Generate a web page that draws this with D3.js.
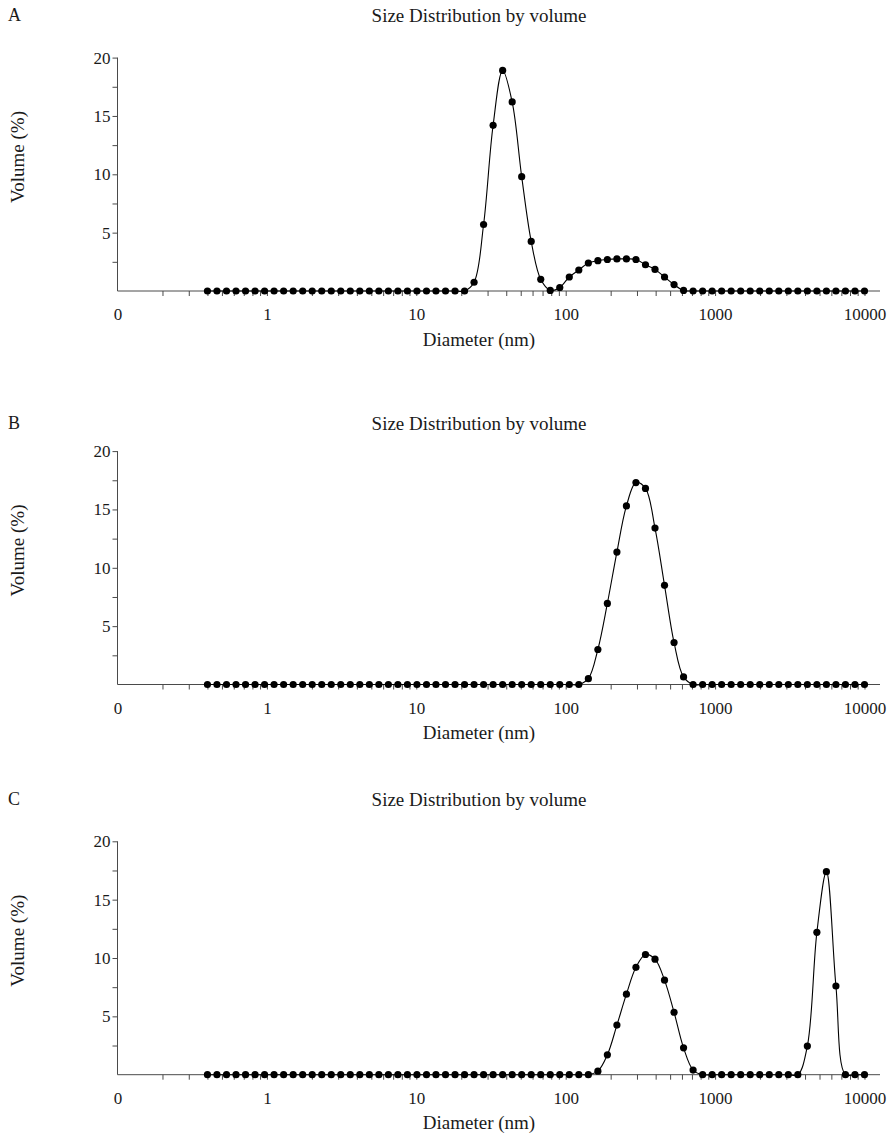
<!DOCTYPE html>
<html>
<head>
<meta charset="utf-8">
<script src="https://cdn.jsdelivr.net/npm/d3@7"></script>
<style>
  html, body { margin: 0; padding: 0; background: #fff; }
  svg { display: block; }
  text { font-family: "Liberation Serif", "DejaVu Serif", serif; fill: #1a1a1a; }
</style>
</head>
<body>
<script>
// Size classes (nm) of the DLS instrument
const sizes = [0.4, 0.4632, 0.5365, 0.6213, 0.7195, 0.8332, 0.9649, 1.117, 1.294, 1.499,
  1.736, 2.01, 2.328, 2.696, 3.122, 3.615, 4.187, 4.849, 5.615, 6.503,
  7.531, 8.721, 10.1, 11.7, 13.54, 15.69, 18.17, 21.04, 24.36, 28.21,
  32.67, 37.84, 43.82, 50.75, 58.77, 68.06, 78.82, 91.28, 105.7, 122.4,
  141.8, 164.2, 190.1, 220.2, 255.0, 295.3, 342.0, 396.1, 458.7, 531.2,
  615.1, 712.4, 825.0, 955.4, 1106, 1281, 1484, 1718, 1990, 2305,
  2669, 3091, 3580, 4145, 4801, 5560, 6439, 7456, 8635, 10000];

// Volume distribution (%) per size class, one array per sample
const volumeA = [0, 0, 0, 0, 0, 0, 0, 0, 0, 0,
  0, 0, 0, 0, 0, 0, 0, 0, 0, 0,
  0, 0, 0, 0, 0, 0, 0, 0, 0.75, 5.7,
  14.2, 18.9, 16.2, 9.8, 4.25, 1.0, 0.05, 0.3, 1.2, 1.8,
  2.4, 2.6, 2.7, 2.75, 2.75, 2.7, 2.25, 1.85, 1.2, 0.55,
  0.05, 0, 0, 0, 0, 0, 0, 0, 0, 0,
  0, 0, 0, 0, 0, 0, 0, 0, 0, 0];

const volumeB = [0, 0, 0, 0, 0, 0, 0, 0, 0, 0,
  0, 0, 0, 0, 0, 0, 0, 0, 0, 0,
  0, 0, 0, 0, 0, 0, 0, 0, 0, 0,
  0, 0, 0, 0, 0, 0, 0, 0, 0, 0,
  0.5, 3.0, 6.95, 11.35, 15.3, 17.3, 16.8, 13.4, 8.5, 3.6,
  0.65, 0, 0, 0, 0, 0, 0, 0, 0, 0,
  0, 0, 0, 0, 0, 0, 0, 0, 0, 0];

const volumeC = [0, 0, 0, 0, 0, 0, 0, 0, 0, 0,
  0, 0, 0, 0, 0, 0, 0, 0, 0, 0,
  0, 0, 0, 0, 0, 0, 0, 0, 0, 0,
  0, 0, 0, 0, 0, 0, 0, 0, 0, 0,
  0, 0.3, 1.7, 4.25, 6.9, 9.2, 10.3, 9.9, 8.1, 5.35,
  2.3, 0.4, 0, 0, 0, 0, 0, 0, 0, 0,
  0, 0, 0, 2.45, 12.2, 17.4, 7.6, 0, 0, 0];

const panelLetters = ["A", "B", "C"];
const panelTitle = "Size Distribution by volume";
const xTickValues = [0.1, 1, 10, 100, 1000, 10000];
const xTickLabels = ["0", "1", "10", "100", "1000", "10000"];
const yTickValues = [5, 10, 15, 20];
const xAxisTitle = "Diameter (nm)";
const yAxisTitle = "Volume (%)";

const series = [volumeA, volumeB, volumeC];

const W = 892, H = 1136;
const svg = d3.select("body").append("svg").attr("width", W).attr("height", H);

// baseline (y of zero) and header line for each panel
const baselines = [291, 684.5, 1074.7];
const headerY = [15, 423, 799];

const x = d3.scaleLog().domain([0.1, 12700]).range([117.5, 880]);
const axisColor = "#4a4a4a";
const numSize = 17;   // tick numbers
const wordSize = 19;  // titles and axis names

// minor ticks: 2..9 within each decade
const minorX = [];
for (let p = -1; p <= 4; p++) {
  for (let m = 2; m <= 9; m++) {
    const v = m * Math.pow(10, p);
    if (v <= 12700) minorX.push(v);
  }
}
const minorY = [2.5, 7.5, 12.5, 17.5];

series.forEach((vals, i) => {
  const y0 = baselines[i];
  const y = d3.scaleLinear().domain([0, 20]).range([y0, y0 - 233.4]);
  const g = svg.append("g");

  // panel letter and title
  g.append("text").attr("x", 8).attr("y", headerY[i]).attr("dy", "0.35em")
    .attr("font-size", 18).text(panelLetters[i]);
  g.append("text").attr("x", 479).attr("y", headerY[i]).attr("dy", "0.35em")
    .attr("text-anchor", "middle").attr("font-size", wordSize).text(panelTitle);

  // x axis
  const xAxis = d3.axisBottom(x).tickValues(xTickValues)
    .tickFormat((d, k) => xTickLabels[k]).tickSize(0).tickPadding(17);
  const gx = g.append("g").attr("transform", `translate(0,${y0})`).call(xAxis);
  gx.select(".domain").attr("stroke", axisColor).attr("d", `M${x.range()[0]},0H${x.range()[1]}`);
  gx.selectAll("text").attr("font-size", numSize).attr("font-family", "Liberation Serif").attr("fill", "#1a1a1a");
  const xMinor = d3.axisBottom(x).tickValues(minorX.concat(xTickValues.slice(1))).tickFormat("").tickSize(5);
  const gxm = g.append("g").attr("transform", `translate(0,${y0})`).call(xMinor);
  gxm.select(".domain").remove();
  gxm.selectAll("line").attr("stroke", axisColor);

  // y axis
  const yAxis = d3.axisLeft(y).tickValues(yTickValues).tickSize(5).tickPadding(2);
  const gy = g.append("g").attr("transform", `translate(${x.range()[0]},0)`).call(yAxis);
  gy.select(".domain").attr("stroke", axisColor).attr("d", `M0,${y(20)}V${y(0)}`);
  gy.selectAll("line").attr("stroke", axisColor);
  gy.selectAll("text").attr("font-size", numSize).attr("font-family", "Liberation Serif").attr("fill", "#1a1a1a");
  const yMinor = d3.axisLeft(y).tickValues(minorY).tickFormat("").tickSize(5);
  const gym = g.append("g").attr("transform", `translate(${x.range()[0]},0)`).call(yMinor);
  gym.select(".domain").remove();
  gym.selectAll("line").attr("stroke", axisColor);

  // axis titles
  g.append("text").attr("x", 479).attr("y", y0 + 48).attr("dy", "0.35em")
    .attr("text-anchor", "middle").attr("font-size", wordSize).text(xAxisTitle);
  g.append("text")
    .attr("transform", `translate(17,${y0 - 134}) rotate(-90)`)
    .attr("dy", "0.35em").attr("text-anchor", "middle")
    .attr("font-size", wordSize).text(yAxisTitle);

  // distribution curve and points
  const pts = sizes.map((s, k) => [s, vals[k]]);
  const line = d3.line().x(d => x(d[0])).y(d => y(d[1])).curve(d3.curveCatmullRom.alpha(0.5));
  g.append("path").datum(pts).attr("d", line)
    .attr("fill", "none").attr("stroke", "#000").attr("stroke-width", 1.1);
  g.selectAll("circle").data(pts).join("circle")
    .attr("cx", d => x(d[0])).attr("cy", d => y(d[1])).attr("r", 3.6).attr("fill", "#000");
});
</script>
</body>
</html>
